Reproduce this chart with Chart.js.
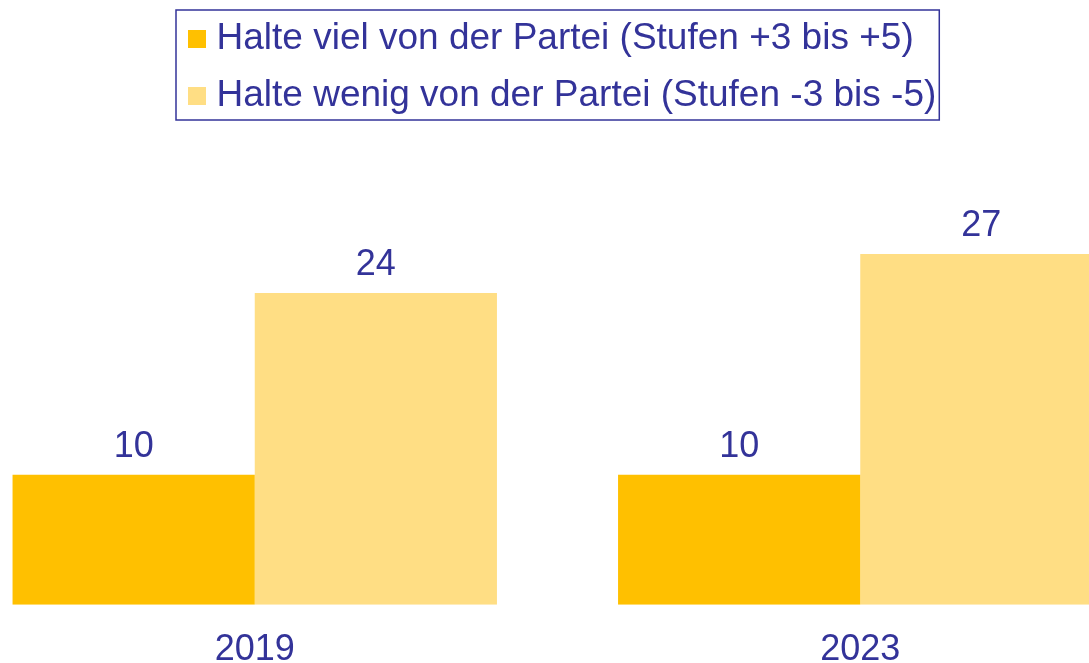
<!DOCTYPE html>
<html><head><meta charset="utf-8">
<style>
html,body{margin:0;padding:0;background:#fff;overflow:hidden;width:1089px;height:663px;position:relative}
#wrap{position:absolute;left:-48px;top:0;width:1211px;height:696px}
</style>
<script src="https://cdn.jsdelivr.net/npm/chart.js@4/dist/chart.umd.min.js"></script>
</head><body><div id="wrap"><canvas id="c"></canvas></div>
<script>
const categories = ['2019', '2023'];
const seriesNames = ['Halte viel von der Partei (Stufen +3 bis +5)', 'Halte wenig von der Partei (Stufen -3 bis -5)'];
const valuesViel = [10, 10];
const valuesWenig = [24, 27];
const seriesColors = ['#FFC000', '#FFDE84'];
const textColor = '#333399';
const FONT = "'Liberation Sans', Arial, sans-serif";

function markerImage(color) {
  const c = document.createElement('canvas');
  c.width = 19; c.height = 18;
  const g = c.getContext('2d');
  g.fillStyle = color; g.fillRect(0, 0, 18, 18);
  return c;
}
const markers = seriesColors.map(markerImage);

const legendPlace = {
  id: 'legendPlace',
  afterLayout(chart) {
    const lg = chart.legend;
    lg.left = 225; lg.width = 800; lg.right = lg.left + lg.width;
  },
  afterDraw(chart) {
    const lg = chart.legend, ctx = chart.ctx;
    const lo = lg.options.labels, fs = lo.font.size;
    ctx.save();
    ctx.font = fs + 'px ' + FONT;
    const tw = Math.max(...seriesNames.map(s => ctx.measureText(s).width));
    const textX = lg.left + lo.padding + 1 + fs / 2;
    const x0 = lg.left - 1, x1 = textX + tw + 3;
    const y0 = lg.top + 10, y1 = lg.top + 120;
    ctx.strokeStyle = textColor; ctx.lineWidth = 1.5;
    ctx.strokeRect(x0, y0, x1 - x0, y1 - y0);
    ctx.restore();
  }
};

const valueLabels = {
  id: 'valueLabels',
  afterDatasetsDraw(chart) {
    const ctx = chart.ctx;
    ctx.save();
    ctx.font = '36px ' + FONT;
    ctx.fillStyle = textColor;
    ctx.textAlign = 'center';
    ctx.textBaseline = 'middle';
    chart.data.datasets.forEach((ds, di) => {
      chart.getDatasetMeta(di).data.forEach((el, i) => {
        ctx.fillText(String(ds.data[i]), el.x, el.y - 28);
      });
    });
    ctx.restore();
  }
};

new Chart(document.getElementById('c'), {
  type: 'bar',
  data: {
    labels: categories,
    datasets: [
      { label: seriesNames[0], data: valuesViel, backgroundColor: seriesColors[0], borderWidth: 0, categoryPercentage: 0.8, barPercentage: 1.0 },
      { label: seriesNames[1], data: valuesWenig, backgroundColor: seriesColors[1], borderWidth: 0, categoryPercentage: 0.8, barPercentage: 1.0 }
    ]
  },
  options: {
    responsive: true,
    maintainAspectRatio: false,
    animation: false,
    layout: { padding: 0 },
    plugins: {
      tooltip: { enabled: false },
      legend: {
        position: 'top',
        align: 'start',
        labels: {
          usePointStyle: true,
          pointStyleWidth: 1,
          boxHeight: 18,
          padding: 20,
          color: textColor,
          font: { family: FONT, size: 37 },
          generateLabels(chart) {
            const items = Chart.defaults.plugins.legend.labels.generateLabels(chart);
            items.forEach((it, i) => { it.pointStyle = markers[i]; it.fontColor = textColor; });
            return items;
          }
        }
      }
    },
    scales: {
      x: {
        grid: { display: false, drawTicks: false },
        border: { display: false },
        ticks: { color: textColor, font: { family: FONT, size: 36 }, padding: 24 }
      },
      y: {
        display: false,
        min: 0,
        max: 37
      }
    }
  },
  plugins: [legendPlace, valueLabels]
});
</script>
</body></html>
